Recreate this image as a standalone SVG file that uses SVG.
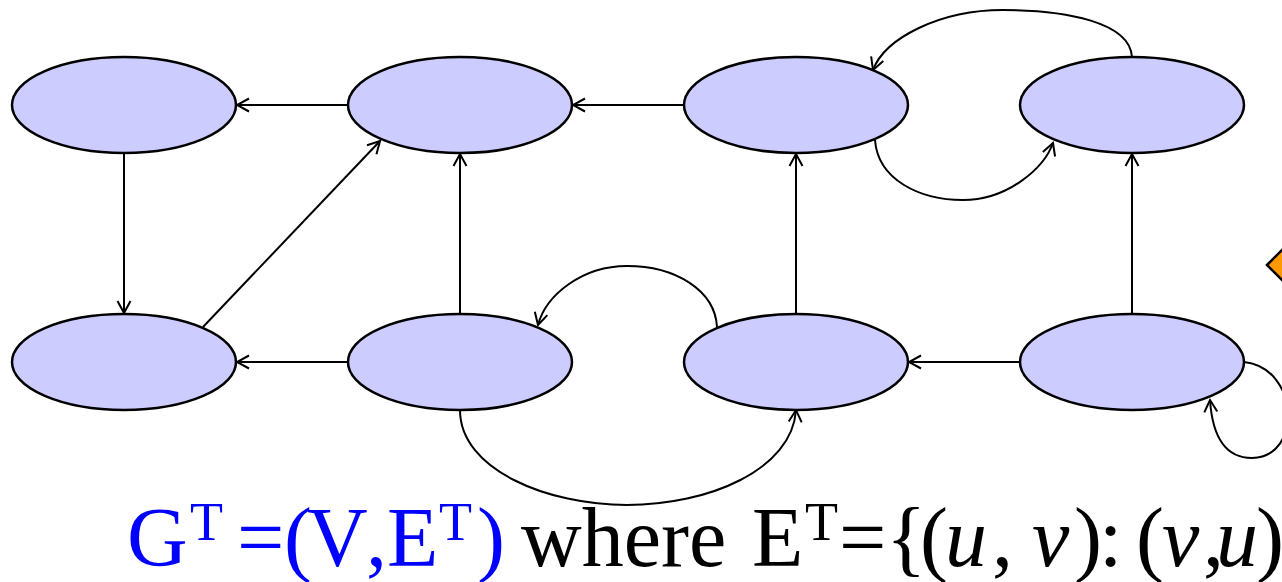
<svg xmlns="http://www.w3.org/2000/svg" width="1282" height="582" viewBox="0 0 1282 582">
<style>
.node ellipse{fill:#CCCCFF;stroke:#000;stroke-width:2.5}
.edge{fill:none;stroke:#000;stroke-width:2;marker-end:url(#arr)}
.t{font-family:"Liberation Serif","Times New Roman",serif;font-size:84px}
.sup{font-size:54px}
.it{font-style:italic}
</style>
<defs>
<marker id="arr" markerUnits="userSpaceOnUse" viewBox="-14 -8 16 16" markerWidth="16" markerHeight="16" refX="0" refY="0" orient="auto">
<path d="M-12,-6.5 L0,0 L-12,6.5" fill="none" stroke="#000" stroke-width="2"/>
</marker>
</defs>
<rect width="1282" height="582" fill="#fff"/>
<polygon id="diamond" points="1267,265 1285,247 1303,265 1285,283" fill="#FF9900" stroke="#000" stroke-width="2.5"/>
<g id="connectors">
<line class="edge" x1="348" y1="105" x2="237" y2="105"/>
<line class="edge" x1="684" y1="105" x2="573" y2="105"/>
<path class="edge" d="M1132,57 C1130,22 1065,10 1003,10 C940,10 885,38 873,70"/>
<path class="edge" d="M875,140 C878,180 920,200 963,200 C1008,200 1044,168 1053,143"/>
<line class="edge" x1="124" y1="153" x2="124" y2="313"/>
<line class="edge" x1="203" y1="327" x2="380" y2="141"/>
<line class="edge" x1="460" y1="314" x2="460" y2="154"/>
<line class="edge" x1="348" y1="362" x2="237" y2="362"/>
<path class="edge" d="M717,327 C715,290 675,266 627,266 C582,266 546,295 538,325"/>
<path class="edge" d="M460,410 C460,470 548,505 627,505 C708,505 792,470 796,410"/>
<line class="edge" x1="796" y1="314" x2="796" y2="154"/>
<line class="edge" x1="1020" y1="362" x2="909" y2="362"/>
<line class="edge" x1="1132" y1="314" x2="1132" y2="154"/>
<path class="edge" d="M1244,362 C1300,368 1302,458 1252,458 C1222,458 1212,430 1210,400"/>
</g>
<g id="n1" class="node"><ellipse cx="124" cy="105" rx="112" ry="48"/></g>
<g id="n2" class="node"><ellipse cx="460" cy="105" rx="112" ry="48"/></g>
<g id="n3" class="node"><ellipse cx="796" cy="105" rx="112" ry="48"/></g>
<g id="n4" class="node"><ellipse cx="1132" cy="105" rx="112" ry="48"/></g>
<g id="n5" class="node"><ellipse cx="124" cy="362" rx="112" ry="48"/></g>
<g id="n6" class="node"><ellipse cx="460" cy="362" rx="112" ry="48"/></g>
<g id="n7" class="node"><ellipse cx="796" cy="362" rx="112" ry="48"/></g>
<g id="n8" class="node"><ellipse cx="1132" cy="362" rx="112" ry="48"/></g>
<g id="caption">
<text class="t" y="566" fill="#0000FF"><tspan x="127">G</tspan><tspan class="sup" x="190" y="540">T</tspan><tspan x="237" y="566">=</tspan><tspan x="284">(</tspan><tspan x="307">V</tspan><tspan x="366">,</tspan><tspan x="387">E</tspan><tspan class="sup" x="439" y="540">T</tspan><tspan x="477" y="566">)</tspan></text>
<text class="t" y="566" fill="#000"><tspan x="521">where</tspan><tspan x="752">E</tspan><tspan class="sup" x="805" y="540">T</tspan><tspan x="839" y="566">=</tspan><tspan x="886">{</tspan><tspan x="920">(</tspan><tspan class="it" x="945">u</tspan><tspan x="992">,</tspan><tspan class="it" x="1032">v</tspan><tspan x="1074">)</tspan><tspan x="1099">:</tspan><tspan x="1136">(</tspan><tspan class="it" x="1162">v</tspan><tspan x="1203">,</tspan><tspan class="it" x="1216">u</tspan><tspan x="1256">)</tspan></text>
</g>
</svg>
